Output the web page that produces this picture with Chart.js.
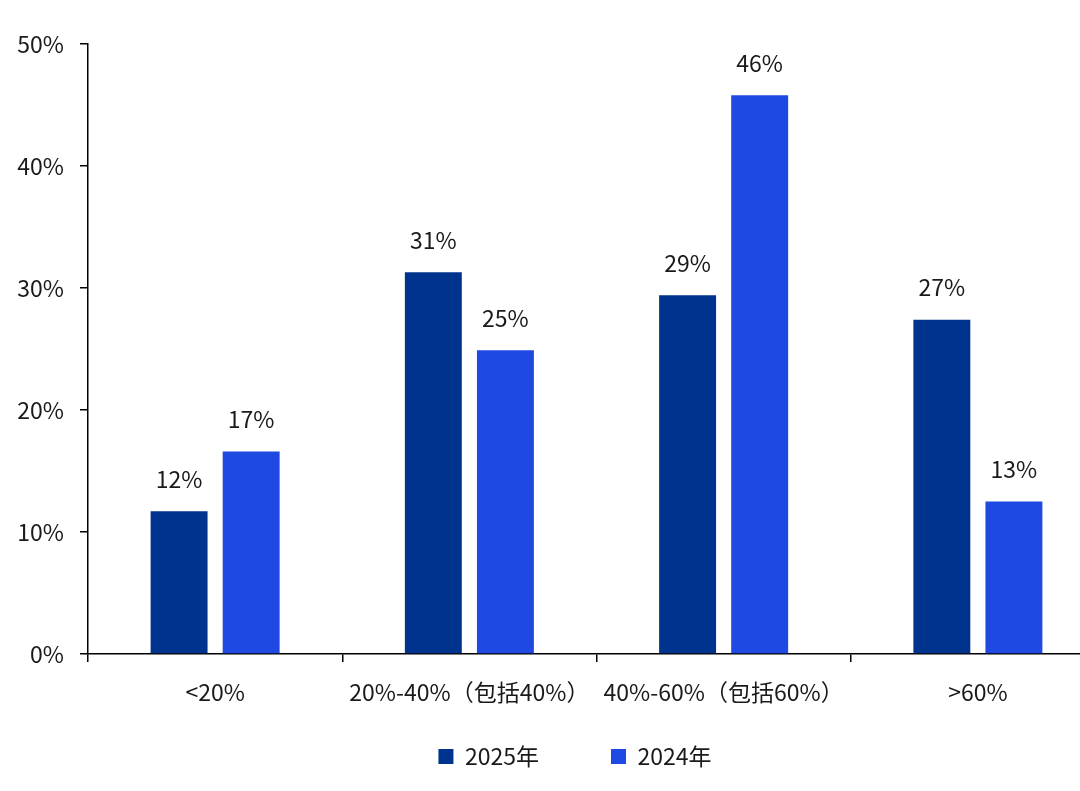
<!DOCTYPE html>
<html>
<head>
<meta charset="utf-8">
<script src="https://cdn.jsdelivr.net/npm/chart.js@4.4.1/dist/chart.umd.min.js"></script>
<style>
  html, body { margin: 0; padding: 0; background: #fff; overflow: hidden; }
  #wrap { width: 1120px; height: 828px; }
</style>
</head>
<body>
<div id="wrap"><canvas id="barChart"></canvas></div>
<script>
const categories = ["<20%", "20%-40%（包括40%）", "40%-60%（包括60%）", ">60%"];
const values2025 = [11.7, 31.3, 29.4, 27.4];
const values2024 = [16.6, 24.9, 45.8, 12.5];
const yTicks = [0, 10, 20, 30, 40, 50];

const FONT = "'Noto Sans CJK SC', 'Noto Sans', sans-serif";

// labels above each bar
const barLabels = {
  id: "barLabels",
  afterLayout(chart) {
    // legend sits a little left of the plot centre and closer to the axis in the original
    chart.legend.left += 45;
    chart.legend.top -= 37;
    chart.legend.bottom -= 37;
  },
  afterDatasetsDraw(chart) {
    const ctx = chart.ctx;
    ctx.save();
    ctx.font = "23px " + FONT;
    ctx.fillStyle = "#1a1a1a";
    ctx.textAlign = "center";
    ctx.textBaseline = "middle";
    chart.data.datasets.forEach((ds, i) => {
      chart.getDatasetMeta(i).data.forEach((bar, j) => {
        ctx.fillText(Math.round(ds.data[j]) + "%", bar.x, bar.y - 32);
      });
    });
    ctx.restore();
  }
};

const ctx = document.getElementById("barChart").getContext("2d");
const chart = new Chart(ctx, {
  type: "bar",
  data: {
    labels: categories,
    datasets: [
      {
        label: "2025年",
        data: values2025,
        backgroundColor: "#00338d",
        categoryPercentage: 0.567,
        barPercentage: 0.79,
      },
      {
        label: "2024年",
        data: values2024,
        backgroundColor: "#1e49e2",
        categoryPercentage: 0.567,
        barPercentage: 0.79,
      }
    ]
  },
  options: {
    responsive: true,
    maintainAspectRatio: false,
    animation: false,
    layout: { padding: { left: 0, right: 15, top: 44, bottom: 13 } },
    plugins: {
      legend: {
        position: "bottom",
        labels: {
          boxWidth: 15,
          boxHeight: 15,
          padding: 72,
          color: "#1a1a1a",
          font: { family: FONT, size: 23 }
        }
      },
      tooltip: { enabled: false }
    },
    scales: {
      x: {
        afterFit(scale) { scale.height = 56; },
        grid: { display: true, drawOnChartArea: false, drawTicks: true, tickLength: 8, color: "#000", lineWidth: 1.5 },
        border: { display: true, color: "#000", width: 1.5 },
        ticks: { color: "#1a1a1a", padding: 16, font: { family: FONT, size: 23 }, maxRotation: 0, autoSkip: false }
      },
      y: {
        min: 0,
        max: 50,
        afterFit(scale) { scale.width = 88; },
        afterBuildTicks(scale) { scale.ticks = yTicks.map(v => ({ value: v })); },
        grid: { display: true, drawOnChartArea: false, drawTicks: true, tickLength: 8, color: "#000", lineWidth: 1.5 },
        border: { display: true, color: "#000", width: 1.5 },
        ticks: {
          color: "#1a1a1a",
          padding: 16,
          font: { family: FONT, size: 23 },
          callback: v => v + "%"
        }
      }
    }
  },
  plugins: [barLabels]
});
</script>
</body>
</html>
